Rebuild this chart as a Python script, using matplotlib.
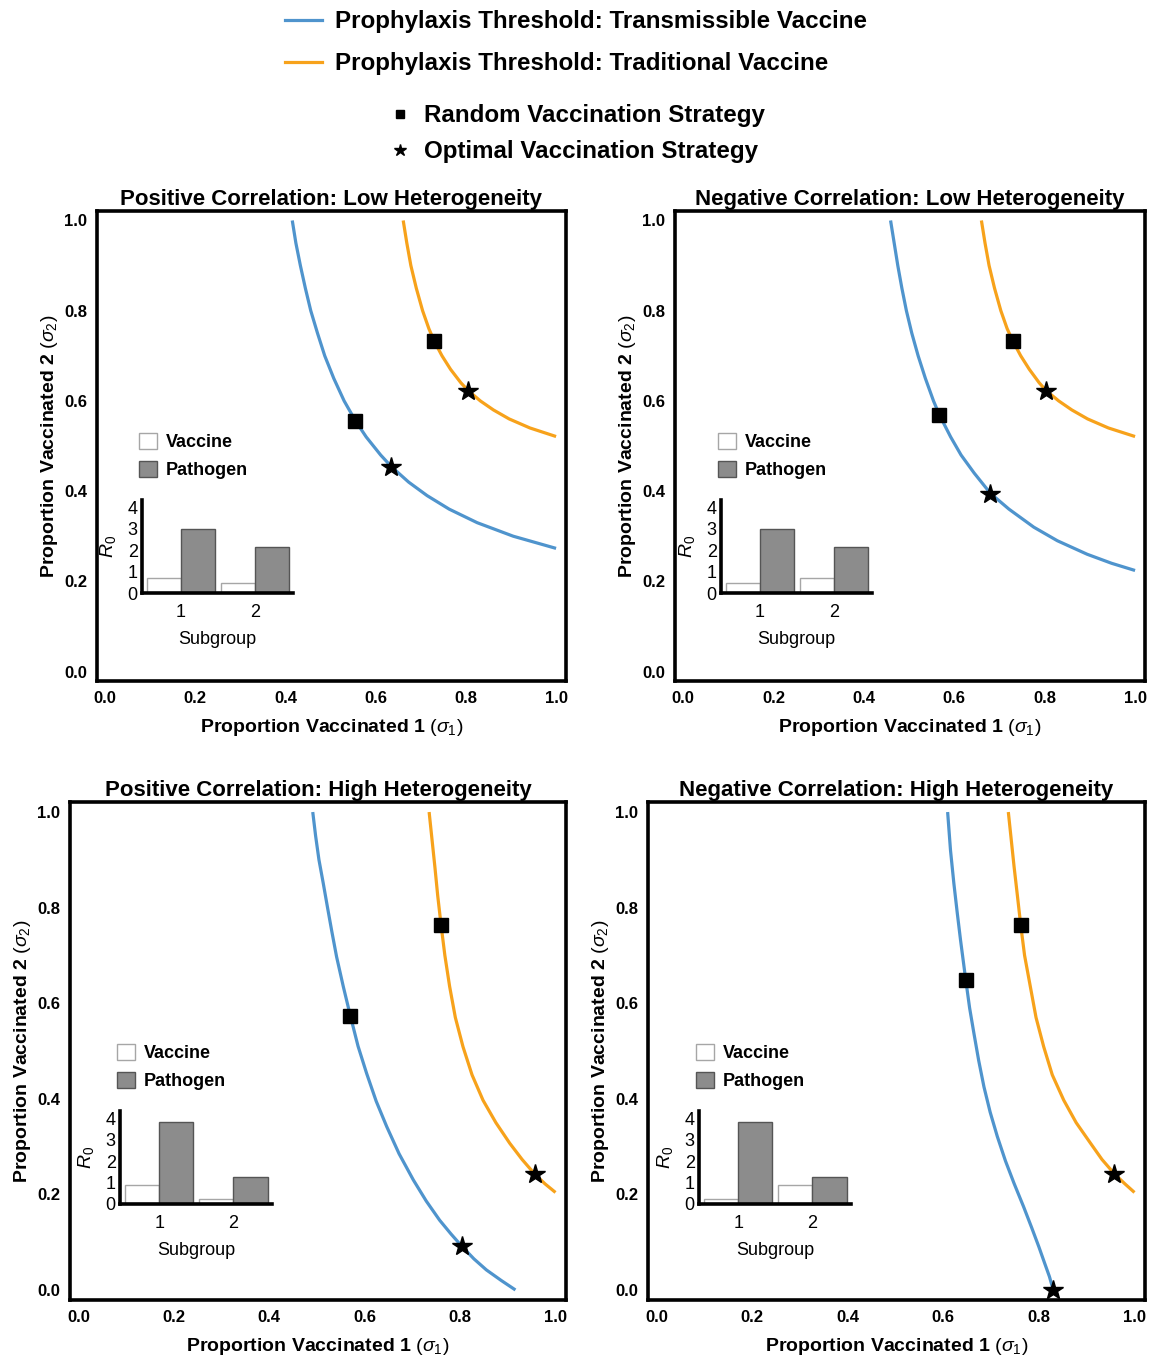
import matplotlib.pyplot as plt
import numpy as np
from matplotlib.lines import Line2D
from matplotlib.patches import Patch

plt.rcParams['font.family'] = ['Liberation Sans', 'DejaVu Sans']
plt.rcParams['mathtext.fontset'] = 'custom'
plt.rcParams['mathtext.rm'] = 'Liberation Sans'
plt.rcParams['mathtext.it'] = 'Liberation Sans:italic'
plt.rcParams['mathtext.bf'] = 'Liberation Sans:bold'

W, H = 1149, 1358
BLUE = '#4f94cd'
ORANGE = '#f7a21b'

# Prophylaxis thresholds: sigma1 / sigma2 pairs
tl_blue_s1 = [0.415, 0.423, 0.433, 0.444, 0.456, 0.471, 0.487, 0.507, 0.530, 0.555,
              0.579, 0.611, 0.635, 0.673, 0.714, 0.763, 0.825, 0.905, 1.0]
tl_blue_s2 = [1.0, 0.95, 0.90, 0.85, 0.80, 0.75, 0.70, 0.65, 0.60, 0.556,
              0.52, 0.48, 0.454, 0.42, 0.39, 0.36, 0.33, 0.30, 0.273]
tl_orange_s1 = [0.661, 0.669, 0.678, 0.690, 0.704, 0.718, 0.730, 0.747, 0.766, 0.789,
                0.805, 0.832, 0.861, 0.896, 0.942, 1.0]
tl_orange_s2 = [1.0, 0.95, 0.90, 0.85, 0.80, 0.76, 0.732, 0.70, 0.67, 0.64,
                0.623, 0.60, 0.58, 0.56, 0.54, 0.521]

tr_blue_s1 = [0.459, 0.467, 0.475, 0.484, 0.494, 0.506, 0.520, 0.536, 0.554, 0.567,
              0.592, 0.615, 0.644, 0.680, 0.721, 0.776, 0.828, 0.894, 0.948, 1.0]
tr_blue_s2 = [1.0, 0.95, 0.90, 0.85, 0.80, 0.75, 0.70, 0.65, 0.60, 0.569,
              0.52, 0.48, 0.44, 0.395, 0.36, 0.32, 0.29, 0.26, 0.24, 0.224]
tr_orange_s1 = [0.660, 0.668, 0.677, 0.689, 0.703, 0.717, 0.730, 0.747, 0.766, 0.788,
                0.803, 0.831, 0.860, 0.895, 0.941, 1.0]
tr_orange_s2 = [1.0, 0.95, 0.90, 0.85, 0.80, 0.76, 0.732, 0.70, 0.67, 0.64,
                0.623, 0.60, 0.58, 0.56, 0.54, 0.521]

bl_blue_s1 = [0.491, 0.497, 0.504, 0.513, 0.522, 0.531, 0.541, 0.555, 0.570, 0.586, 0.604,
              0.624, 0.646, 0.672, 0.702, 0.729, 0.757, 0.781, 0.804, 0.829, 0.855, 0.886, 0.916]
bl_blue_s2 = [1.0, 0.95, 0.90, 0.851, 0.80, 0.75, 0.697, 0.635, 0.573, 0.51, 0.453,
              0.395, 0.342, 0.285, 0.230, 0.186, 0.146, 0.117, 0.091, 0.065, 0.042, 0.020, 0.0]
bl_orange_s1 = [0.735, 0.741, 0.747, 0.753, 0.760, 0.768, 0.778, 0.790, 0.806, 0.825,
                0.848, 0.875, 0.904, 0.930, 0.956, 0.978, 1.0]
bl_orange_s2 = [1.0, 0.943, 0.886, 0.825, 0.764, 0.70, 0.635, 0.57, 0.509, 0.45,
                0.397, 0.35, 0.307, 0.273, 0.243, 0.222, 0.204]

br_blue_s1 = [0.609, 0.615, 0.622, 0.629, 0.636, 0.647, 0.655, 0.664, 0.674, 0.685, 0.698,
              0.713, 0.730, 0.748, 0.768, 0.785, 0.800, 0.812, 0.822, 0.830]
br_blue_s2 = [1.0, 0.92, 0.851, 0.79, 0.732, 0.648, 0.59, 0.537, 0.48, 0.425, 0.372,
              0.321, 0.27, 0.223, 0.174, 0.13, 0.09, 0.056, 0.028, 0.0]
br_orange_s1 = [0.736, 0.742, 0.748, 0.755, 0.762, 0.770, 0.782, 0.794, 0.810, 0.828,
                0.852, 0.878, 0.908, 0.932, 0.958, 0.980, 1.0]
br_orange_s2 = [1.0, 0.943, 0.886, 0.825, 0.763, 0.70, 0.635, 0.57, 0.509, 0.45,
                0.397, 0.35, 0.307, 0.273, 0.243, 0.222, 0.204]

# Strategies: [transmissible, traditional]
tl_random = ([0.555, 0.730], [0.556, 0.732])
tl_optimal = ([0.633, 0.804], [0.454, 0.623])
tr_random = ([0.567, 0.730], [0.569, 0.732])
tr_optimal = ([0.680, 0.802], [0.393, 0.623])
bl_random = ([0.570, 0.760], [0.573, 0.764])
bl_optimal = ([0.804, 0.956], [0.091, 0.243])
br_random = ([0.647, 0.762], [0.648, 0.763])
br_optimal = ([0.830, 0.958], [0.0, 0.243])

# Inset R0 bars per subgroup
subgroups = [1, 2]
tl_vaccine = [0.70, 0.48]
tl_pathogen = [3.0, 2.12]
tr_vaccine = [0.48, 0.70]
tr_pathogen = [3.0, 2.12]
bl_vaccine = [0.88, 0.25]
bl_pathogen = [3.8, 1.25]
br_vaccine = [0.25, 0.88]
br_pathogen = [3.8, 1.25]

titles = ['Positive Correlation: Low Heterogeneity',
          'Negative Correlation: Low Heterogeneity',
          'Positive Correlation: High Heterogeneity',
          'Negative Correlation: High Heterogeneity']
ticks = [0.0, 0.2, 0.4, 0.6, 0.8, 1.0]


def rect(l, t, r, b):
    return [l / W, 1 - b / H, (r - l) / W, (b - t) / H]


panels = [
    (rect(97, 211, 566, 681), rect(142, 500, 293, 593),
     (tl_blue_s1, tl_blue_s2), (tl_orange_s1, tl_orange_s2),
     tl_random, tl_optimal, tl_vaccine, tl_pathogen),
    (rect(675, 211, 1145, 681), rect(721, 500, 872, 593),
     (tr_blue_s1, tr_blue_s2), (tr_orange_s1, tr_orange_s2),
     tr_random, tr_optimal, tr_vaccine, tr_pathogen),
    (rect(70, 802, 566, 1300), rect(120, 1111, 272, 1204),
     (bl_blue_s1, bl_blue_s2), (bl_orange_s1, bl_orange_s2),
     bl_random, bl_optimal, bl_vaccine, bl_pathogen),
    (rect(648, 802, 1145, 1300), rect(699, 1111, 851, 1204),
     (br_blue_s1, br_blue_s2), (br_orange_s1, br_orange_s2),
     br_random, br_optimal, br_vaccine, br_pathogen),
]

fig = plt.figure(figsize=(W / 100, H / 100), dpi=100)

for title, (pos, inset_pos, blue, orange, rnd, opt, vac, pat) in zip(titles, panels):
    ax = fig.add_axes(pos)
    ax.plot(blue[0], blue[1], color=BLUE, lw=2.3, solid_capstyle='butt')
    ax.plot(orange[0], orange[1], color=ORANGE, lw=2.3, solid_capstyle='butt')
    ax.plot(rnd[0], rnd[1], 's', color='black', ms=10, clip_on=False, zorder=5)
    ax.plot(opt[0], opt[1], '*', color='black', ms=15, clip_on=False, zorder=5)
    ax.set_xlim(-0.018, 1.022)
    ax.set_ylim(-0.021, 1.021)
    ax.set_xticks(ticks)
    ax.set_yticks(ticks)
    ax.set_xticklabels([f'{t:.1f}' for t in ticks], fontweight='bold', fontsize=12)
    ax.set_yticklabels([f'{t:.1f}' for t in ticks], fontweight='bold', fontsize=12)
    ax.tick_params(length=0, pad=7)
    for s in ax.spines.values():
        s.set_linewidth(2.6)
    ax.set_title(title, fontweight='bold', fontsize=16, pad=4)
    ax.set_xlabel(r'Proportion Vaccinated 1 $(\sigma_1)$', fontweight='bold', fontsize=14, labelpad=8)
    ax.set_ylabel(r'Proportion Vaccinated 2 $(\sigma_2)$', fontweight='bold', fontsize=14, labelpad=3)

    # Inset bar chart of R0 per subgroup
    axi = fig.add_axes(inset_pos)
    x = np.array(subgroups, dtype=float)
    w = 0.46
    axi.bar(x - w / 2, vac, w, color='white', edgecolor='#a6a6a6', lw=1.0)
    axi.bar(x + w / 2, pat, w, color='#8c8c8c', edgecolor='#555555', lw=1.0)
    axi.set_xlim(0.47, 2.52)
    axi.set_ylim(0, 4.33)
    axi.set_yticks([0, 1, 2, 3, 4])
    axi.set_xticks(subgroups)
    axi.tick_params(length=0, labelsize=13)
    axi.tick_params(axis='y', pad=3)
    axi.tick_params(axis='x', pad=8)
    axi.spines['top'].set_visible(False)
    axi.spines['right'].set_visible(False)
    axi.spines['left'].set_linewidth(2.6)
    axi.spines['bottom'].set_linewidth(2.6)
    axi.set_facecolor('none')
    axi.set_xlabel('Subgroup', fontsize=13, labelpad=7)
    axi.set_ylabel(r'$R_0$', fontsize=14, labelpad=7)
    handles = [Patch(facecolor='white', edgecolor='#a6a6a6'),
               Patch(facecolor='#8c8c8c', edgecolor='#555555')]
    axi.legend(handles, ['Vaccine', 'Pathogen'], loc='upper left',
               bbox_to_anchor=(-0.02, 1.725), frameon=False, borderpad=0,
               borderaxespad=0, handlelength=1.0, handleheight=1.0,
               handletextpad=0.5, labelspacing=0.57,
               prop={'weight': 'bold', 'size': 13})

# Top legends
line_handles = [Line2D([], [], color=BLUE, lw=2.3), Line2D([], [], color=ORANGE, lw=2.3)]
fig.legend(line_handles, ['Prophylaxis Threshold: Transmissible Vaccine',
                          'Prophylaxis Threshold: Traditional Vaccine'],
           loc='upper left', bbox_to_anchor=(285 / W, 1 - 10 / H), frameon=False,
           borderpad=0, borderaxespad=0, handlelength=1.55, handletextpad=0.5,
           labelspacing=0.8, prop={'weight': 'bold', 'size': 17.4})

marker_handles = [Line2D([], [], ls='none', marker='s', color='black', ms=6),
                  Line2D([], [], ls='none', marker='*', color='black', ms=9)]
fig.legend(marker_handles, ['Random Vaccination Strategy', 'Optimal Vaccination Strategy'],
           loc='upper left', bbox_to_anchor=(390 / W, 1 - 104 / H), frameon=False,
           borderpad=0, borderaxespad=0, handlelength=0.8, handletextpad=0.6,
           labelspacing=0.55, prop={'weight': 'bold', 'size': 17.4})

fig.savefig('out.png', dpi=100)
